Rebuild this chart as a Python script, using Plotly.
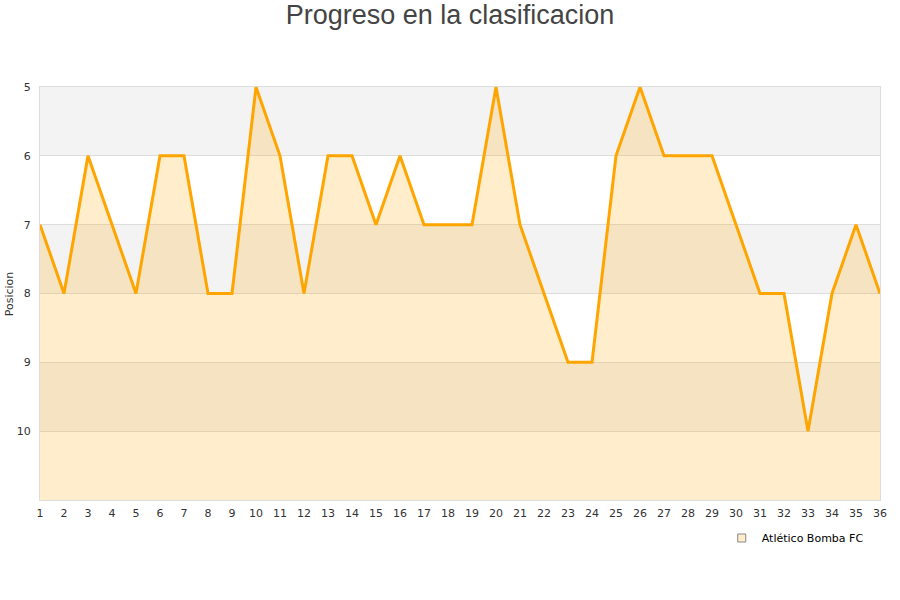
import plotly.graph_objects as go

jornadas = list(range(1, 37))
posiciones = [7, 8, 6, 7, 8, 6, 6, 8, 8, 5, 6, 8, 6, 6, 7, 6, 7, 7, 7, 5,
              7, 8, 9, 9, 6, 5, 6, 6, 6, 7, 8, 8, 10, 8, 7, 8]
y_ticks = [5, 6, 7, 8, 9, 10]
team = "Atlético Bomba FC"
y_min, y_max = 5, 11

fig = go.Figure()

# alternating bands
for lo in (5, 7, 9):
    fig.add_shape(type="rect", xref="paper", yref="y", x0=0, x1=1, y0=lo, y1=lo + 1,
                  fillcolor="#f3f3f3", line_width=0, layer="below")

fig.add_trace(go.Scatter(x=jornadas, y=[y_max] * len(jornadas), mode="lines",
                         line=dict(width=0), showlegend=False, hoverinfo="skip"))
fig.add_trace(go.Scatter(x=jornadas, y=posiciones, mode="lines", fill="tonexty",
                         fillcolor="rgba(255,165,0,0.2)",
                         line=dict(color="#ffa500", width=3), showlegend=False,
                         name=team))
fig.add_trace(go.Scatter(x=[None], y=[None], mode="markers", name=team,
                         marker=dict(symbol="square", size=8, color="#ffedcc",
                                     line=dict(color="#888", width=1))))

fig.add_annotation(text="Posicion", xref="paper", yref="paper", x=-0.036, y=0.5,
                   xanchor="center", yanchor="middle", textangle=-90, showarrow=False,
                   font=dict(family="DejaVu Sans", size=11, color="#333"))

fig.update_layout(
    width=900, height=600,
    paper_bgcolor="white", plot_bgcolor="white",
    margin=dict(l=40, r=20, t=87, b=100, autoexpand=False),
    title=dict(text="Progreso en la clasificacion", x=0.5, xanchor="center",
               y=0.975, yanchor="middle",
               font=dict(family="Liberation Sans", size=27, color="#444")),
    font=dict(family="DejaVu Sans", size=11, color="#333"),
    showlegend=True,
    legend=dict(x=0.9866, xanchor="right", y=-0.092, yanchor="middle",
                font=dict(family="DejaVu Sans", size=11, color="#000"),
                bgcolor="rgba(0,0,0,0)", itemwidth=30),
    xaxis=dict(range=[1, 36], tickvals=jornadas, ticktext=[str(j) for j in jornadas],
               showgrid=False, zeroline=False, showline=True, linecolor="#ddd",
               mirror=True, ticks="", ticklabelstandoff=3, automargin=False,
               tickfont=dict(size=11, color="#333")),
    yaxis=dict(range=[y_max, y_min], tickvals=y_ticks, showgrid=True,
               gridcolor="#dddddd", zeroline=False, showline=True, linecolor="#ddd",
               mirror=True, ticks="", ticklabelstandoff=6, automargin=False,
               tickfont=dict(size=11, color="#333")),
)

fig.write_html("out.html", config={"displayModeBar": False},
               post_script="document.body.style.margin='0';")
